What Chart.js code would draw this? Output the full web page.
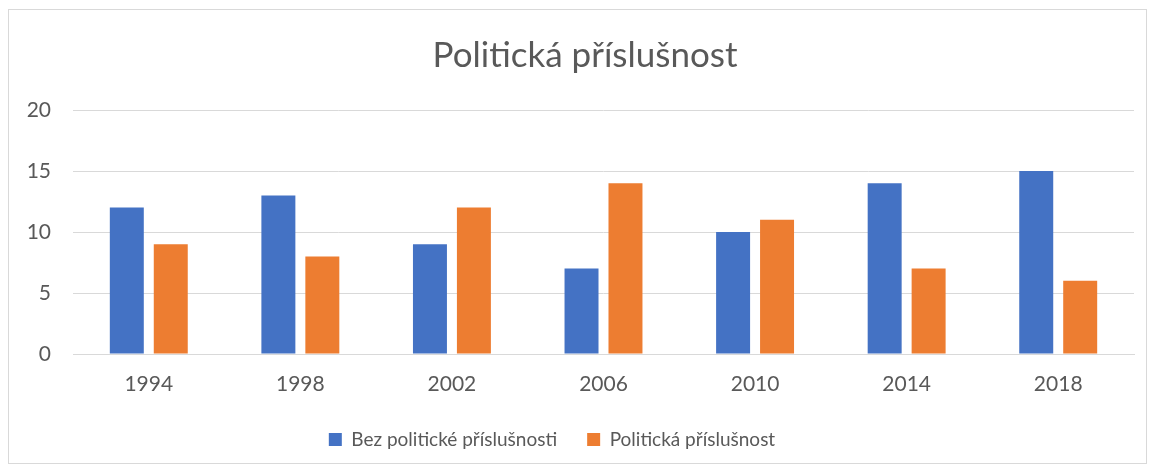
<!DOCTYPE html>
<html>
<head>
<meta charset="utf-8">
<script src="https://cdn.jsdelivr.net/npm/chart.js@4"></script>
<style>
  html, body { margin: 0; padding: 0; background: #fff; }
  #wrap { position: relative; width: 1154px; height: 471px; }
  #frame { position: absolute; left: 8px; top: 9px; width: 1137px; height: 453px; border: 1px solid #d9d9d9; }
  canvas { position: absolute; left: 0; top: 0; }
</style>
</head>
<body>
<div id="wrap">
  <div id="frame"></div>
  <canvas id="bar-chart" width="1154" height="471"></canvas>
</div>
<script>
// chart data
var years = ["1994", "1998", "2002", "2006", "2010", "2014", "2018"];
var bezPrislusnosti = [12, 13, 9, 7, 10, 14, 15];
var prislusnost = [9, 8, 12, 14, 11, 7, 6];
var yTicks = [0, 5, 10, 15, 20];

var gray = "#595959";
var fontFamily = "Lato, 'Open Sans', sans-serif";

// title sits a bit right of center and legend a bit left in the original
var nudgeBoxes = {
  id: 'nudgeBoxes',
  afterLayout: function(chart) {
    if (chart.legend) chart.legend.right -= 38;
    if (chart.titleBlock) chart.titleBlock.left += 28;
  }
};

new Chart(document.getElementById("bar-chart"), {
  type: 'bar',
  data: {
    labels: years,
    datasets: [
      {
        label: "Bez politické příslušnosti",
        backgroundColor: "#4472C4",
        data: bezPrislusnosti
      },
      {
        label: "Politická příslušnost",
        backgroundColor: "#ED7D31",
        data: prislusnost
      }
    ]
  },
  plugins: [nudgeBoxes],
  options: {
    responsive: false,
    animation: false,
    categoryPercentage: 0.58,
    barPercentage: 0.773,
    layout: { padding: { left: 8, right: 20, top: 9, bottom: 12 } },
    plugins: {
      title: {
        display: true,
        text: 'Politická příslušnost',
        color: gray,
        font: { family: fontFamily, size: 35, weight: 'normal' },
        padding: { top: 26, bottom: 33 }
      },
      legend: {
        position: 'bottom',
        labels: {
          color: gray,
          font: { family: fontFamily, size: 19 },
          boxWidth: 13,
          boxHeight: 13,
          padding: 30
        }
      },
      tooltip: { enabled: false }
    },
    scales: {
      x: {
        afterFit: function(scale) { scale.height = 46; },
        grid: { display: false, drawTicks: false },
        border: { color: "#d9d9d9", width: 1 },
        ticks: { color: gray, font: { family: fontFamily, size: 21 }, padding: 18 }
      },
      y: {
        min: 0,
        max: 20,
        afterFit: function(scale) { scale.width = 65; },
        afterBuildTicks: function(scale) {
          scale.ticks = yTicks.map(function(v) { return { value: v }; });
        },
        grid: { color: "#d9d9d9", lineWidth: 1, drawTicks: false },
        border: { display: false },
        ticks: { color: gray, font: { family: fontFamily, size: 21 }, padding: 22 }
      }
    }
  }
});
</script>
</body>
</html>
